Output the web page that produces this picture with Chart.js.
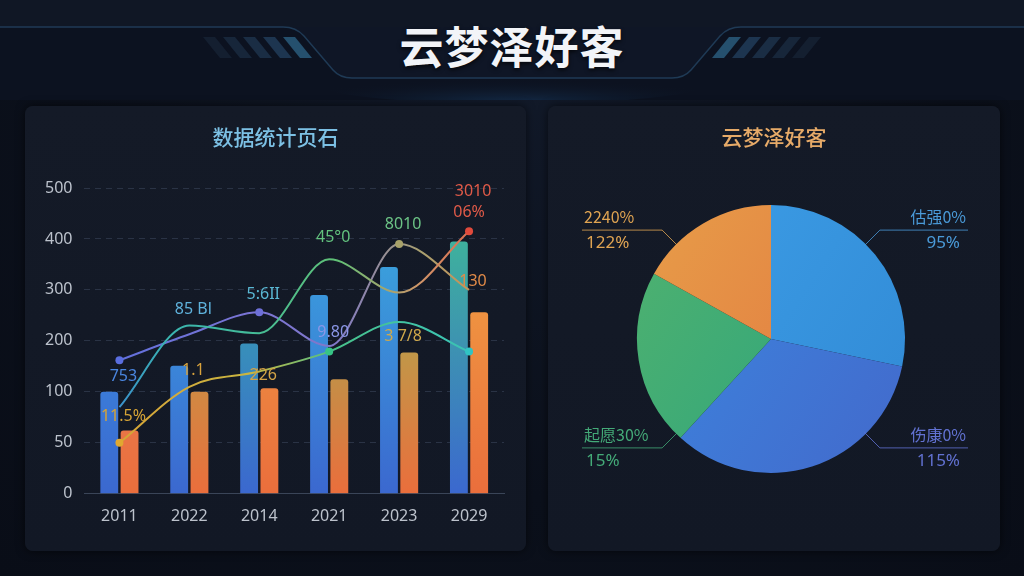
<!DOCTYPE html>
<html>
<head>
<meta charset="utf-8">
<script src="https://cdn.jsdelivr.net/npm/chart.js@4.4.1/dist/chart.umd.min.js"></script>
<style>
  html, body { margin:0; padding:0; }
  body {
    width:1024px; height:576px; overflow:hidden; position:relative;
    background: radial-gradient(ellipse at 50% 10%, #121a2a 0%, #0b101b 60%, #090d17 100%);
    font-family: "Noto Sans CJK SC", "Noto Sans", sans-serif;
  }
  #header { position:absolute; left:0; top:0; width:1024px; height:100px; }
  #mainTitle {
    position:absolute; left:0; top:13px; width:1024px; text-align:center;
    color:#f2f4f8; font-size:44px; font-weight:bold; letter-spacing:1px;
    text-shadow: 0 2px 4px rgba(0,0,0,0.7);
  }
  .panel {
    position:absolute; top:106px; height:445px; border-radius:8px;
    background: linear-gradient(180deg, #141a27 0%, #121825 100%);
    box-shadow: 0 0 10px rgba(0,0,0,0.6);
  }
  #leftPanel { left:25px; width:501px; }
  #rightPanel { left:548px; width:452px; }
  .ptitle {
    position:absolute; top:15px; width:100%; text-align:center;
    font-size:21px; font-weight:500;
  }
  canvas { position:absolute; left:0; top:0; }
</style>
</head>
<body>
<svg id="header" width="1024" height="100">
  <defs>
    <linearGradient id="glow" x1="0" x2="1" y1="0" y2="0">
      <stop offset="0" stop-color="#2a6aa0" stop-opacity="0"/>
      <stop offset="0.5" stop-color="#4aa0ff" stop-opacity="0.9"/>
      <stop offset="1" stop-color="#2a6aa0" stop-opacity="0"/>
    </linearGradient>
    <radialGradient id="halo" cx="0.5" cy="1" r="0.6">
      <stop offset="0" stop-color="#1d4a7a" stop-opacity="0.5"/>
      <stop offset="1" stop-color="#0b101b" stop-opacity="0"/>
    </radialGradient>
  </defs>
  <rect x="0" y="0" width="1024" height="27" fill="#101725"/>
  <path d="M0,27 L283,27 Q296,27 304,36 L333,70 Q340,78 352,78 L672,78 Q684,78 691,70 L720,36 Q728,27 741,27 L1024,27 L1024,100 L0,100 Z" fill="#0c1220"/>
  <path d="M352,78 L672,78 Q684,78 691,70 L720,36 Q728,27 741,27 L283,27 Q296,27 304,36 L333,70 Q340,78 352,78 Z" fill="#0f1626"/>
  <ellipse cx="512" cy="82" rx="200" ry="22" fill="url(#halo)"/>
  <path d="M0,27 L283,27 Q296,27 304,36 L333,70 Q340,78 352,78 L672,78 Q684,78 691,70 L720,36 Q728,27 741,27 L1024,27" fill="none" stroke="#1f3a55" stroke-width="1.5"/>
  <line x1="400" y1="79" x2="624" y2="79" stroke="url(#glow)" stroke-width="2"/>
  <g>
    <polygon points="203,37 215,37 232,58 220,58" fill="#141f30"/>
    <polygon points="223,37 235,37 252,58 240,58" fill="#17263a"/>
    <polygon points="243,37 255,37 272,58 260,58" fill="#1a2d44"/>
    <polygon points="263,37 275,37 292,58 280,58" fill="#1d3550"/>
    <polygon points="283,37 295,37 312,58 300,58" fill="#25506e"/>
  </g>
  <g>
    <polygon points="821,37 809,37 792,58 804,58" fill="#141f30"/>
    <polygon points="801,37 789,37 772,58 784,58" fill="#17263a"/>
    <polygon points="781,37 769,37 752,58 764,58" fill="#1a2d44"/>
    <polygon points="761,37 749,37 732,58 744,58" fill="#1d3550"/>
    <polygon points="741,37 729,37 712,58 724,58" fill="#25506e"/>
  </g>
</svg>
<div id="mainTitle">云梦泽好客</div>

<div class="panel" id="leftPanel">
  <canvas id="barChart" width="501" height="445"></canvas>
  <div class="ptitle" style="color:#7cc0e4;">数据统计页石</div>
</div>
<div class="panel" id="rightPanel">
  <canvas id="pieChart" width="452" height="445"></canvas>
  <div class="ptitle" style="color:#e6aa68;">云梦泽好客</div>
</div>

<script>
// ---- data ----
const years = ['2011', '2022', '2014', '2021', '2023', '2029'];
const yTicks = [0, 50, 100, 200, 300, 400, 500];

const barSeriesA = [100, 151, 195, 290, 345, 395];
const barSeriesB = [62, 100, 107, 125, 177, 256];

const lineTealRed = [85, 230, 215, 360, 295, 415];
const linePurple = [162, 213, 256, 190, 390, 300];
const lineYellow = [50, 110, 140, 179, 237, 179];

// point labels (text as printed on the chart)
const labelsTealRed = ['', '85 Bl', '', '45°0', '', '3010'];
const labelsPurple = ['753', '', '5:6II', '9.80', '8010', '130'];
const labelsYellow = ['11.5%', '1.1', '2̈26', '', '3 7/8', ''];

const pieNames = ['估强0%', '伤康0%', '起愿30%', '2240%'];
const pieShares = [28.3, 33.5, 21.3, 16.9];
const pieSub = ['95%', '115%', '15%', '122%'];

// ---- helpers ----
// map a value onto the (unevenly labelled) y axis: each tick step is one unit
function toAxis(v) {
  if (v == null) return null;
  for (let i = 0; i < yTicks.length - 1; i++) {
    if (v <= yTicks[i + 1]) return i + (v - yTicks[i]) / (yTicks[i + 1] - yTicks[i]);
  }
  return yTicks.length - 1;
}

function vGrad(ctx, area, top, bottom) {
  const g = ctx.createLinearGradient(0, area.top, 0, area.bottom);
  g.addColorStop(0, top);
  g.addColorStop(1, bottom);
  return g;
}
function hGrad(ctx, area, stops) {
  const g = ctx.createLinearGradient(area.left, 0, area.right, 0);
  stops.forEach((c, i) => g.addColorStop(i / (stops.length - 1), c));
  return g;
}

const topA = ['#3a9ee8', '#3aaee6', '#34b8a4', '#3aaee2', '#3ab0e0', '#3fc092'];
const topB = ['#e8906a', '#9ebe50', '#eea646', '#86c458', '#92c656', '#f2aa44'];

function barColor(tops, bottom) {
  return function (c) {
    const area = c.chart.chartArea;
    if (!area) return tops[0];
    return vGrad(c.chart.ctx, area, tops[c.dataIndex], bottom);
  };
}
function lineColor(stops) {
  return function (c) {
    const area = c.chart.chartArea;
    if (!area) return stops[0];
    return hGrad(c.chart.ctx, area, stops);
  };
}

// text labels next to line points
const pointText = {
  id: 'pointText',
  afterDatasetsDraw(chart) {
    const ctx = chart.ctx;
    const sets = [
      { ds: 2, labels: labelsTealRed, colors: ['#4a8fe0', '#5fb2dc', '#58c0d0', '#62c27e', '#62c27e', '#e05a48'], dy: [0, -16, 0, -22, 0, -40] },
      { ds: 3, labels: labelsPurple, colors: ['#4a86e0', '#5fb0d8', '#5ab8d4', '#8a96e6', '#6cc486', '#e08a48'], dy: [16, 0, -18, -14, -20, -8] },
      { ds: 4, labels: labelsYellow, colors: ['#d6a436', '#d8a23c', '#d4a446', '#d4a446', '#cfa84a', '#cfa84a'], dy: [-26, -16, 4, 0, 14, 0] }
    ];
    ctx.save();
    ctx.font = '16px "Noto Sans", "DejaVu Sans", sans-serif';
    ctx.textAlign = 'center';
    ctx.textBaseline = 'middle';
    sets.forEach(s => {
      const meta = chart.getDatasetMeta(s.ds);
      meta.data.forEach((pt, i) => {
        const t = s.labels[i];
        if (!t) return;
        ctx.fillStyle = s.colors[i];
        ctx.fillText(t, pt.x + 4, pt.y + s.dy[i]);
      });
    });
    // second line over the last red point
    const last = chart.getDatasetMeta(2).data[5];
    ctx.fillStyle = '#e05a48';
    ctx.fillText('06%', last.x, last.y - 19);
    ctx.restore();
  }
};

// ---- bar + line chart ----
new Chart(document.getElementById('barChart'), {
  type: 'bar',
  data: {
    labels: years,
    datasets: [
      {
        type: 'bar', label: 'A', data: barSeriesA.map(toAxis),
        backgroundColor: barColor(topA, '#3b68cf'),
        borderRadius: { topLeft: 3, topRight: 3 }, borderSkipped: 'bottom',
        barPercentage: 0.88, categoryPercentage: 0.58, order: 2
      },
      {
        type: 'bar', label: 'B', data: barSeriesB.map(toAxis),
        backgroundColor: barColor(topB, '#ea6e3c'),
        borderRadius: { topLeft: 3, topRight: 3 }, borderSkipped: 'bottom',
        barPercentage: 0.88, categoryPercentage: 0.58, order: 2
      },
      {
        type: 'line', label: 'L1', data: lineTealRed.map(toAxis),
        borderColor: lineColor(['#3a78e0', '#3ab4b0', '#44bc98', '#60c076', '#d09468', '#e4503e']),
        borderWidth: 2, tension: 0.45, cubicInterpolationMode: 'monotone',
        pointRadius: [0, 0, 0, 0, 0, 4], pointBackgroundColor: '#e04a3c', pointBorderWidth: 0, order: 1
      },
      {
        type: 'line', label: 'L2', data: linePurple.map(toAxis),
        borderColor: lineColor(['#5a6ee0', '#6c72d8', '#7a74d4', '#8078c8', '#a8a070', '#e08a44']),
        borderWidth: 2, tension: 0.45, cubicInterpolationMode: 'monotone',
        pointRadius: [4, 0, 4, 0, 4, 0],
        pointBackgroundColor: ['#5a6ee0', '#5a6ee0', '#6e70d8', '#7a74d4', '#a8a26a', '#e08a44'],
        pointBorderWidth: 0, order: 1
      },
      {
        type: 'line', label: 'L3', data: lineYellow.map(toAxis),
        borderColor: lineColor(['#d6a030', '#d2aa3c', '#c8b640', '#48c08a', '#40c4a8', '#34c0c0']),
        borderWidth: 2, tension: 0.45, cubicInterpolationMode: 'monotone',
        pointRadius: [4, 0, 0, 4, 0, 4],
        pointBackgroundColor: ['#e0a830', '#e0a830', '#e0a830', '#36c486', '#36c4a8', '#30c4c4'],
        pointBorderWidth: 0, order: 1
      }
    ]
  },
  options: {
    responsive: false,
    animation: false,
    layout: { padding: { left: 8, right: 22, top: 82, bottom: 20 } },
    plugins: { legend: { display: false }, tooltip: { enabled: false } },
    scales: {
      x: {
        grid: { display: false },
        border: { color: '#3a4558', width: 1 },
        ticks: { color: '#bcc2cc', font: { size: 16, family: '"Noto Sans", sans-serif' }, padding: 5 }
      },
      y: {
        min: 0, max: yTicks.length - 1,
        ticks: {
          stepSize: 1,
          color: '#bcc2cc',
          font: { size: 16, family: '"Noto Sans", sans-serif' },
          padding: 12,
          callback: (v) => yTicks[v]
        },
        grid: { color: (c) => c.index === 0 ? 'rgba(0,0,0,0)' : '#2a3345', lineWidth: 1, drawTicks: false },
        border: { display: false, dash: [6, 5] }
      }
    }
  },
  plugins: [pointText]
});

// ---- pie chart ----
const pieTops = ['#3fa2ea', '#3a8ee4', '#56b46c', '#e8a44a'];
const pieBottoms = ['#2f86d2', '#4464c8', '#22a082', '#e06c3e'];
const pieTextColors = ['#4a9ad8', '#6272d2', '#44aa78', '#e0a452'];

const pieLeaders = {
  id: 'pieLeaders',
  afterDatasetsDraw(chart) {
    const ctx = chart.ctx;
    const meta = chart.getDatasetMeta(0);
    ctx.save();
    meta.data.forEach((arc, i) => {
      const p = arc.getProps(['x', 'y', 'startAngle', 'endAngle', 'outerRadius'], true);
      const mid = (p.startAngle + p.endAngle) / 2;
      // anchor on the diagonal of the quadrant the slice points to
      const q = Math.round((mid - Math.PI / 4) / (Math.PI / 2)) * (Math.PI / 2) + Math.PI / 4;
      const cx = Math.cos(q), cy = Math.sin(q);
      const r = p.outerRadius;
      const x0 = p.x + cx * (r - 2), y0 = p.y + cy * (r - 2);
      const x1 = p.x + cx * (r + 20), y1 = p.y + cy * (r + 20);
      const right = cx > 0;
      const x2 = right ? p.x + r + 63 : p.x - r - 55;
      ctx.strokeStyle = pieTextColors[i];
      ctx.globalAlpha = 0.8;
      ctx.lineWidth = 1;
      ctx.beginPath();
      ctx.moveTo(x0, y0); ctx.lineTo(x1, y1); ctx.lineTo(x2, y1);
      ctx.stroke();
      ctx.globalAlpha = 1;
      ctx.fillStyle = pieTextColors[i];
      ctx.textAlign = right ? 'right' : 'left';
      ctx.textBaseline = 'middle';
      ctx.font = '16px "Noto Sans CJK SC", "Noto Sans", sans-serif';
      ctx.fillText(pieNames[i], x2 + (right ? -2 : 2), y1 - 13);
      ctx.font = '17px "Noto Sans", sans-serif';
      ctx.fillText(pieSub[i], x2 + (right ? -8 : 4), y1 + 13);
    });
    ctx.restore();
  }
};

new Chart(document.getElementById('pieChart'), {
  type: 'pie',
  data: {
    labels: pieNames,
    datasets: [{
      data: pieShares,
      backgroundColor: function (c) {
        const area = c.chart.chartArea;
        if (!area) return pieTops[c.dataIndex];
        const g = c.chart.ctx.createLinearGradient(area.left, area.top, area.right, area.bottom);
        g.addColorStop(0, pieTops[c.dataIndex]);
        g.addColorStop(1, pieBottoms[c.dataIndex]);
        return g;
      },
      borderWidth: 0
    }]
  },
  options: {
    responsive: false,
    animation: false,
    layout: { padding: { left: 20, right: 26, top: 99, bottom: 78 } },
    plugins: { legend: { display: false }, tooltip: { enabled: false } }
  },
  plugins: [pieLeaders]
});
</script>
</body>
</html>
